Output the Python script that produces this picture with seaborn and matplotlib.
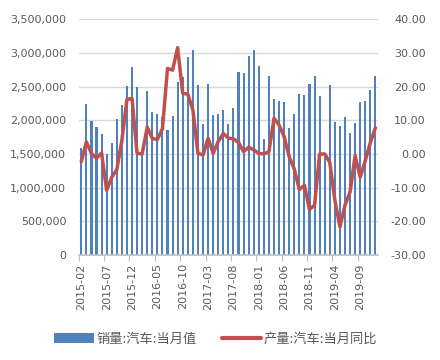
import matplotlib
matplotlib.use('Agg')
import matplotlib.pyplot as plt
import seaborn as sns
import numpy as np
from matplotlib.ticker import FuncFormatter
from matplotlib.patches import Patch
from matplotlib.lines import Line2D

sns.set_theme(style="white")
plt.rcParams.update({'font.size': 8, 'font.family': ['DejaVu Sans']})

# monthly categories 2015-02 .. 2019-12
months = [f"{y}-{m:02d}" for y in range(2015, 2020) for m in range(1, 13)][1:]

# 销量:汽车:当月值 (vehicles)
sales = [
    1590000, 2240000, 1990000, 1900000, 1800000, 1500000, 1660000, 2020000, 2220000, 2510000, 2790000,
    2500000, 1550000, 2440000, 2120000, 2090000, 2050000, 1850000, 2070000, 2570000, 2640000, 2940000, 3050000,
    2520000, 1940000, 2540000, 2080000, 2090000, 2150000, 1950000, 2180000, 2710000, 2700000, 2960000, 3050000,
    2810000, 1720000, 2660000, 2310000, 2290000, 2270000, 1890000, 2100000, 2390000, 2380000, 2540000, 2660000,
    2360000, 1480000, 2520000, 1980000, 1920000, 2050000, 1810000, 1960000, 2270000, 2280000, 2450000, 2660000,
]

# 产量:汽车:当月同比 (%)
yoy = [
    -2.3, 3.6, 0.2, -1.3, 0.3, -10.8, -6.9, -4.7, 4.0, 16.2, 16.5,
    0.2, 0.0, 8.0, 4.6, 4.3, 7.5, 25.4, 24.9, 31.6, 18.0, 17.8, 13.1,
    0.2, -0.3, 4.7, 0.2, 3.7, 6.1, 4.7, 4.5, 3.4, 0.7, 2.0, 1.2,
    0.2, 0.0, 0.7, 10.6, 8.6, 5.1, -0.8, -4.5, -10.6, -9.3, -16.5, -15.2,
    0.0, 0.0, -2.5, -13.7, -21.6, -15.2, -11.3, -0.5, -6.9, -2.0, 3.4, 7.8,
]

label_sales = '销量:汽车:当月值'
label_yoy = '产量:汽车:当月同比'
bar_color = '#4F81BD'
line_color = '#C0504D'
text_color = '#595959'
n = len(months)

fig = plt.figure(figsize=(4.4, 3.6), dpi=100)
ax = fig.add_axes([0.179, 0.2917, 0.680, 0.6547])

sns.barplot(x=months, y=sales, color=bar_color, saturation=1, width=0.42,
            linewidth=0, ax=ax)
for p in ax.patches:
    p.set_antialiased(False)
ax.set_ylim(0, 3500000)
ax.set_yticks(np.arange(0, 3500001, 500000))
ax.yaxis.set_major_formatter(FuncFormatter(lambda v, p: f'{int(v):,}'))
ax.yaxis.grid(True, color='#d9d9d9', lw=1)
ax.set_axisbelow(True)
ax.tick_params(axis='y', length=0, pad=9, labelcolor=text_color, labelsize=8)

ax.set_xticks(range(0, n, 5))
ax.set_xticklabels(months[::5], rotation=90)
ax.set_xticks(np.arange(-0.5, n - 1, 5), minor=True)
ax.tick_params(axis='x', which='major', length=0, pad=6, labelcolor=text_color, labelsize=8)
ax.tick_params(axis='x', which='minor', length=4, width=0.8, color='#bfbfbf', bottom=True)
ax.set_xlabel('')
ax.set_ylabel('')
for s in ['top', 'left', 'right']:
    ax.spines[s].set_visible(False)
ax.spines['bottom'].set_color('#bfbfbf')

ax2 = ax.twinx()
sns.lineplot(x=np.arange(n), y=yoy, color=line_color, lw=2.5, ax=ax2)
ax2.set_ylim(-30, 40)
ax2.set_yticks(range(-30, 41, 10))
ax2.yaxis.set_major_formatter(FuncFormatter(lambda v, p: f'{v:.2f}'))
ax2.tick_params(axis='y', length=0, pad=34.5, labelcolor=text_color, labelsize=8)
plt.setp(ax2.get_yticklabels(), ha='right')
ax2.set_ylabel('')
for s in ax2.spines.values():
    s.set_visible(False)
ax.set_xlim(-0.5, n - 0.5)

handles = [Patch(facecolor=bar_color, edgecolor='none'),
           Line2D([0], [0], color=line_color, lw=3)]
fig.legend(handles, [label_sales, label_yoy], loc='center', bbox_to_anchor=(0.49, 0.058),
           ncol=2, frameon=False, handlelength=3.0, handletextpad=0.2, columnspacing=1.9,
           labelcolor=text_color,
           prop={'family': ['Noto Sans CJK SC', 'DejaVu Sans'], 'size': 9.5})

fig.savefig('out.png', dpi=100)
plt.close()
